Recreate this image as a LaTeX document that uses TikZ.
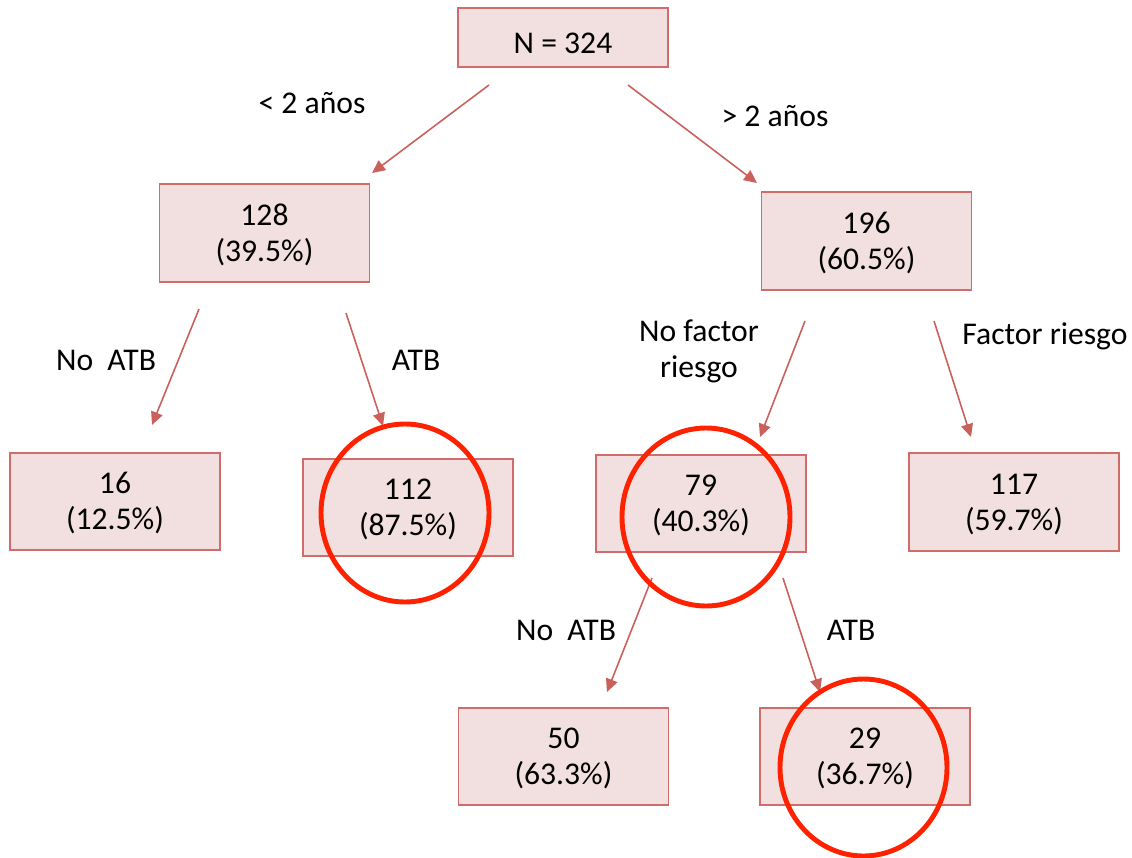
\documentclass[tikz,border=0pt]{standalone}
\usepackage{fontspec}
\setmainfont{Carlito}
\usetikzlibrary{arrows.meta}
\definecolor{boxfill}{HTML}{F2DFDF}
\definecolor{boxline}{HTML}{D06C6A}
\definecolor{arrowline}{HTML}{C9605C}
\definecolor{ringred}{HTML}{FF2200}
\begin{document}
\begin{tikzpicture}[x=0.02cm,y=-0.02cm,
    every node/.style={font=\fontsize{18}{20.5}\selectfont},
    caja/.style={draw=boxline,line width=1pt,fill=boxfill,align=center,
      minimum width=4.2cm,minimum height=1.95cm,inner sep=0pt,
      text height=37pt,text depth=4.6pt},
    rama/.style={draw=arrowline,line width=0.9pt,
      -{Triangle[length=0.26cm,width=0.24cm]}},
    etiqueta/.style={align=center},
    anillo/.style={draw=ringred,line width=2.8pt}]
    \useasboundingbox (0,0) rectangle (1132,858);
    % cajas
    \node[caja,minimum height=1.18cm,text height=18pt,text depth=0pt] (raiz) at (563,37.5) {N = 324};
    \node[caja] (menor) at (264.5,233) {128\\(39.5\%)};
    \node[caja] (mayor) at (866.5,241) {196\\(60.5\%)};
    \node[caja] (noatbA) at (115,501.5) {16\\(12.5\%)};
    \node[caja] (atbA) at (408,507.5) {112\\(87.5\%)};
    \node[caja] (nofactor) at (701,503.5) {79\\(40.3\%)};
    \node[caja] (factor) at (1014,502) {117\\(59.7\%)};
    \node[caja] (noatbB) at (563.5,756.5) {50\\(63.3\%)};
    \node[caja] (atbB) at (865,756.5) {29\\(36.7\%)};
    % extremos de las flechas
    \coordinate (r1) at (489,85);   \coordinate (r1e) at (372,173);
    \coordinate (r2) at (628,85);   \coordinate (r2e) at (757,183);
    \coordinate (m1) at (199,309);  \coordinate (m1e) at (152,425);
    \coordinate (m2) at (346,313);  \coordinate (m2e) at (383,426);
    \coordinate (y1) at (805,321);  \coordinate (y1e) at (760,437);
    \coordinate (y2) at (934,321);  \coordinate (y2e) at (971,437);
    \coordinate (f1) at (652,578);  \coordinate (f1e) at (607,692);
    \coordinate (f2) at (783,578);  \coordinate (f2e) at (820,692);
    \draw[rama] (r1) -- (r1e);
    \draw[rama] (r2) -- (r2e);
    \draw[rama] (m1) -- (m1e);
    \draw[rama] (m2) -- (m2e);
    \draw[rama] (y1) -- (y1e);
    \draw[rama] (y2) -- (y2e);
    \draw[rama] (f1) -- (f1e);
    \draw[rama] (f2) -- (f2e);
    % etiquetas
    \node[etiqueta] (lmenor) at (312,103) {< 2 años};
    \node[etiqueta] (lmayor) at (775,116) {> 2 años};
    \node[etiqueta] (lnoatbA) at (106,360) {No\ \ ATB};
    \node[etiqueta] (latbA) at (416,360) {ATB};
    \node[etiqueta] (lnofactor) at (699,351) {No factor\\riesgo};
    \node[etiqueta] (lfactor) at (1045,336) {Factor riesgo};
    \node[etiqueta] (lnoatbB) at (566,630) {No\ \ ATB};
    \node[etiqueta] (latbB) at (851,630) {ATB};
    % circulos rojos
    \draw[anillo] (405,513) ellipse (84 and 89);
    \draw[anillo] (706,517) ellipse (84 and 89);
    \draw[anillo] (863.5,767.5) ellipse (83.5 and 88.5);
\end{tikzpicture}
\end{document}
